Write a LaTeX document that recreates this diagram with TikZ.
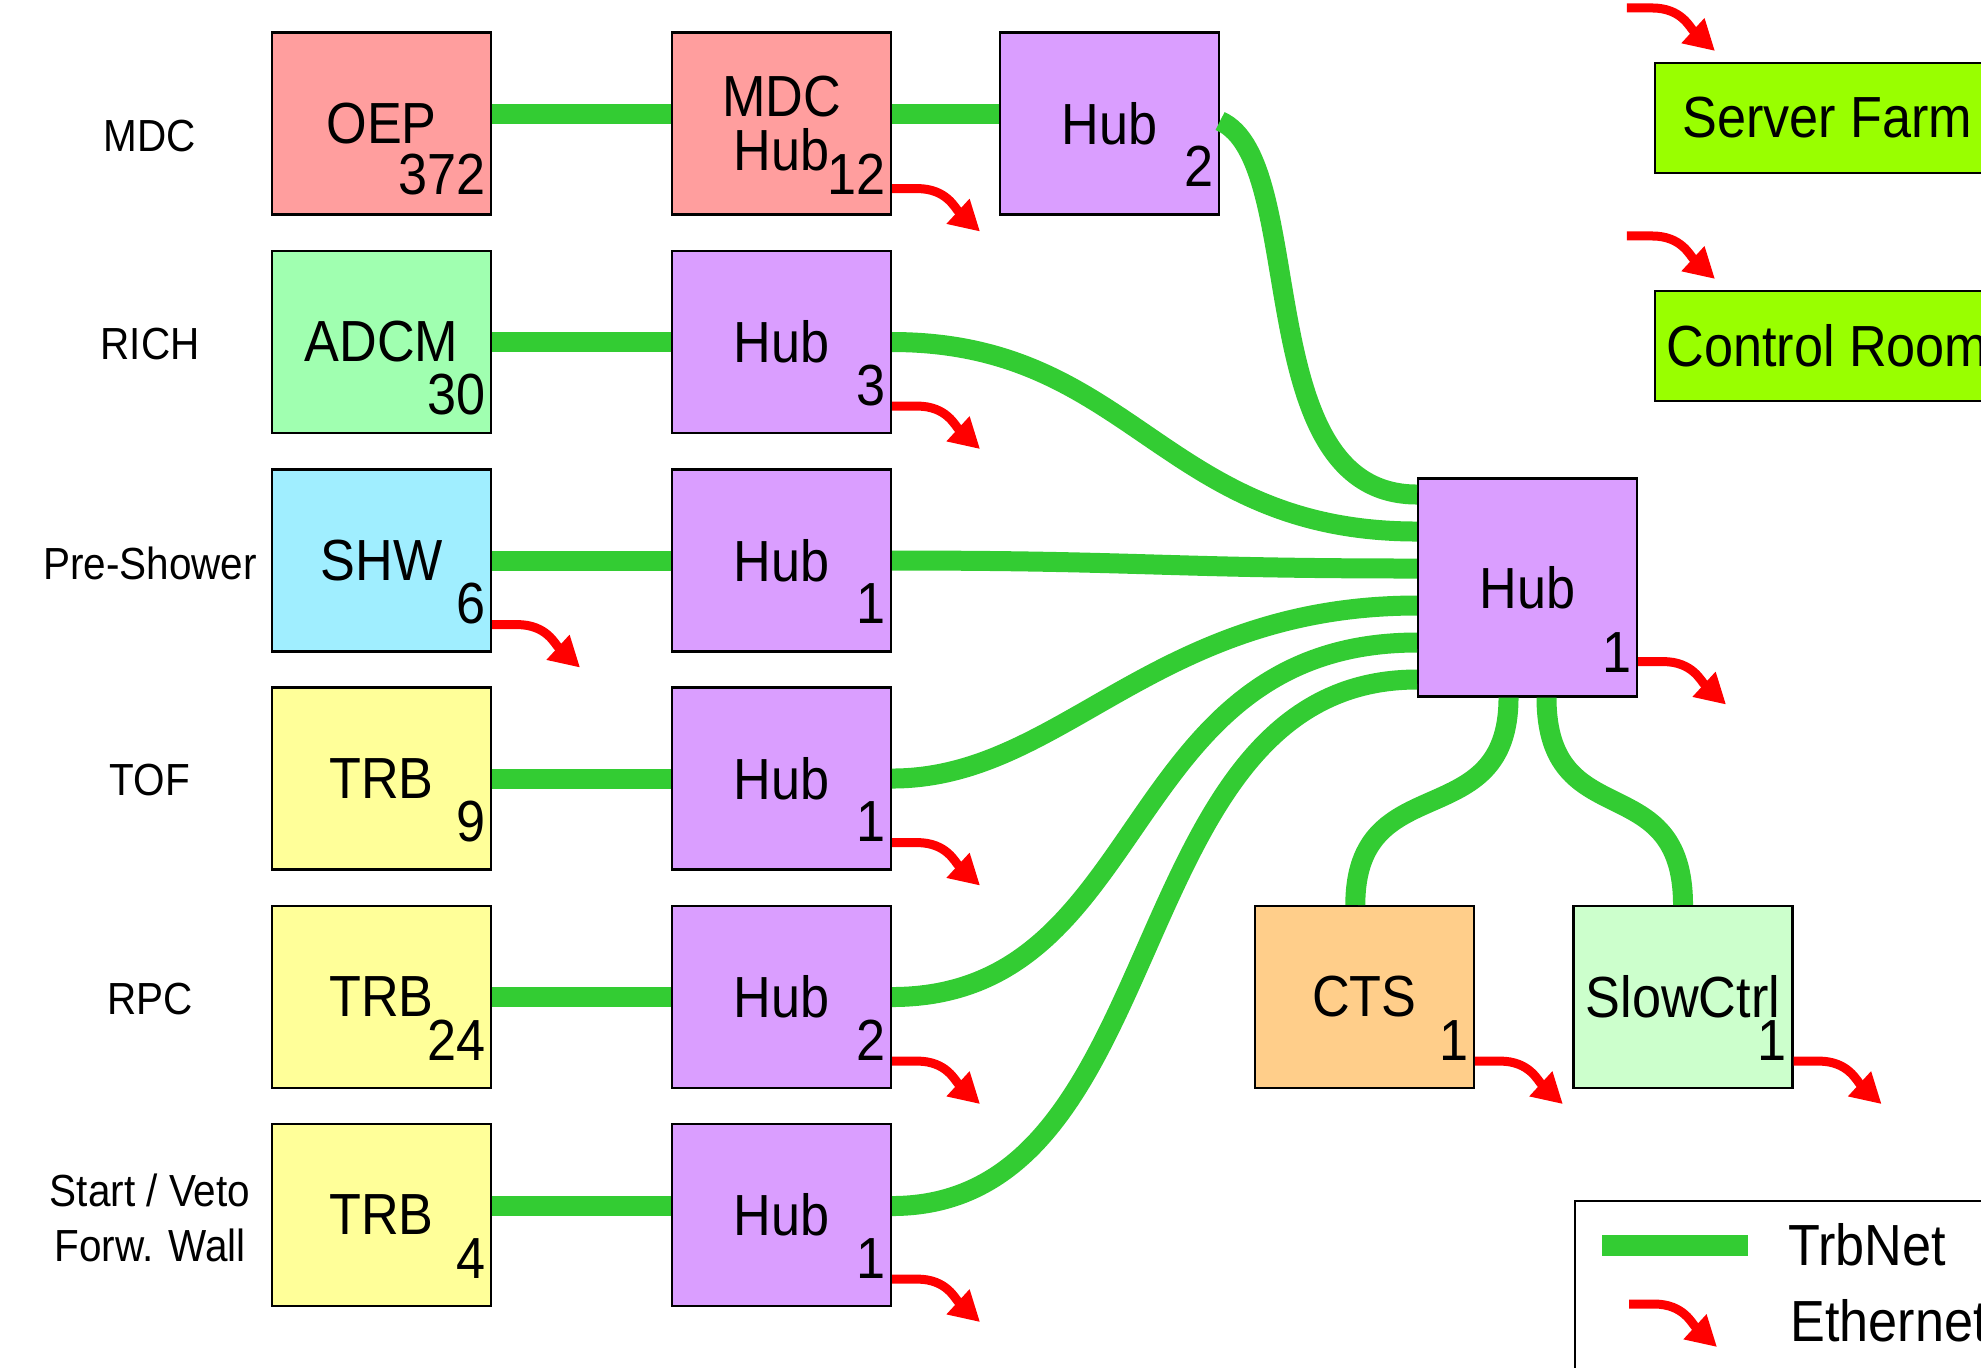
\documentclass[tikz,border=0pt]{standalone}
\usepackage{fontspec}
\setmainfont[FakeStretch=0.9]{Liberation Sans}
\usepackage{tikz}
\usetikzlibrary{arrows.meta,positioning,calc}

\definecolor{oeppink}{HTML}{FF9E9E}
\definecolor{adcmgreen}{HTML}{A0FFB0}
\definecolor{shwcyan}{HTML}{A0EEFF}
\definecolor{trbyellow}{HTML}{FFFF99}
\definecolor{hubviolet}{HTML}{DA9EFF}
\definecolor{ctsorange}{HTML}{FFCE8A}
\definecolor{slowgreen}{HTML}{CCFFCC}
\definecolor{farmlime}{HTML}{99FF00}
\definecolor{trbgreen}{HTML}{33CC33}

\begin{document}
\begin{tikzpicture}[
    x=1.0cm, y=1.0cm,
    font=\fontsize{16.5}{15.6}\selectfont,
    modbox/.style={rectangle, draw=black, line width=0.6pt, minimum width=2.19cm, minimum height=1.82cm, inner sep=0pt, align=center},
    hubblock/.style={modbox, fill=hubviolet},
    nlabel/.style={anchor=east, inner sep=0pt},
    detector/.style={font=\fontsize{12.8}{15.6}\selectfont, align=center},
    sink/.style={rectangle, draw=black, line width=0.6pt, fill=farmlime, minimum width=3.45cm, minimum height=1.10cm, inner sep=0pt},
    trbnet/.style={draw=trbgreen, line width=0.2cm},
    ethernet/.style={draw=red, line width=0.09cm, -{Triangle[length=0.3cm, width=0.32cm]}}
]
    \path[use as bounding box, clip] (0,0) rectangle (19.81,-13.67);

    % Detector names
    \node[detector] (lmdc) at (1.50,-1.355) {MDC};
    \node[detector] (lrich) at (1.50,-3.44) {RICH};
    \node[detector] (lshower) at (1.50,-5.63) {Pre-Shower};
    \node[detector] (ltof) at (1.50,-7.80) {TOF};
    \node[detector] (lrpc) at (1.50,-9.99) {RPC};
    \node[detector] (lstart) at (1.50,-12.175) {Start / Veto\\Forw. Wall};

    % Front-end boards and their hubs
    \node[modbox, fill=oeppink] (oep) at (3.815,-1.235) {OEP};
    \node[modbox, fill=oeppink] (mdchub) at (7.815,-1.235) {MDC\\Hub};
    \node[hubblock] (hubmdc) at (11.095,-1.235) {Hub};
    \node[modbox, fill=adcmgreen] (adcm) at (3.815,-3.42) {ADCM};
    \node[hubblock] (hubrich) at (7.815,-3.42) {Hub};
    \node[modbox, fill=shwcyan] (shw) at (3.815,-5.605) {SHW};
    \node[hubblock] (hubshower) at (7.815,-5.605) {Hub};
    \node[modbox, fill=trbyellow] (trbtof) at (3.815,-7.785) {TRB};
    \node[hubblock] (hubtof) at (7.815,-7.785) {Hub};
    \node[modbox, fill=trbyellow] (trbrpc) at (3.815,-9.97) {TRB};
    \node[hubblock] (hubrpc) at (7.815,-9.97) {Hub};
    \node[modbox, fill=trbyellow] (trbstart) at (3.815,-12.15) {TRB};
    \node[hubblock] (hubstart) at (7.815,-12.15) {Hub};

    % Central hub, CTS and slow control
    \node[hubblock, minimum height=2.18cm] (hubcentral) at (15.275,-5.875) {Hub};
    \node[modbox, fill=ctsorange] (cts) at (13.643,-9.97) {CTS};
    \node[modbox, fill=slowgreen] (slowctrl) at (16.83,-9.97) {SlowCtrl};

    % Ethernet destinations
    \node[sink] (farm) at (18.275,-1.18) {Server Farm};
    \node[sink] (ctrlroom) at (18.275,-3.46) {Control Room};

    % Board counts
    \node[nlabel] (oepn) at ($(oep.south east)+(-0.06,0.415)$) {372};
    \node[nlabel] (mdchubn) at ($(mdchub.south east)+(-0.06,0.415)$) {12};
    \node[nlabel] (hubmdcn) at ($(hubmdc.south east)+(-0.06,0.49)$) {2};
    \node[nlabel] (adcmn) at ($(adcm.south east)+(-0.06,0.40)$) {30};
    \node[nlabel] (hubrichn) at ($(hubrich.south east)+(-0.06,0.49)$) {3};
    \node[nlabel] (shwn) at ($(shw.south east)+(-0.06,0.49)$) {6};
    \node[nlabel] (hubshowern) at ($(hubshower.south east)+(-0.06,0.49)$) {1};
    \node[nlabel] (trbtofn) at ($(trbtof.south east)+(-0.06,0.49)$) {9};
    \node[nlabel] (hubtofn) at ($(hubtof.south east)+(-0.06,0.49)$) {1};
    \node[nlabel] (trbrpcn) at ($(trbrpc.south east)+(-0.06,0.49)$) {24};
    \node[nlabel] (hubrpcn) at ($(hubrpc.south east)+(-0.06,0.49)$) {2};
    \node[nlabel] (trbstartn) at ($(trbstart.south east)+(-0.06,0.49)$) {4};
    \node[nlabel] (hubstartn) at ($(hubstart.south east)+(-0.06,0.49)$) {1};
    \node[nlabel] (hubcentraln) at ($(hubcentral.south east)+(-0.06,0.45)$) {1};
    \node[nlabel] (ctsn) at ($(cts.south east)+(-0.06,0.49)$) {1};
    \node[nlabel] (slowctrln) at ($(slowctrl.south east)+(-0.06,0.49)$) {1};

    % 1. TrbNet: boards to hubs
    \draw[trbnet] ($(oep.east)+(0,0.095)$) -- ($(mdchub.west)+(0,0.095)$);
    \draw[trbnet] ($(mdchub.east)+(0,0.095)$) -- ($(hubmdc.west)+(0,0.095)$);
    \draw[trbnet] (adcm) -- (hubrich);
    \draw[trbnet] (shw) -- (hubshower);
    \draw[trbnet] (trbtof) -- (hubtof);
    \draw[trbnet] (trbrpc) -- (hubrpc);
    \draw[trbnet] ($(trbstart.east)+(0,0.09)$) -- ($(hubstart.west)+(0,0.09)$);

    % 2. TrbNet: hubs to central hub
    \draw[trbnet] ($(hubmdc.east)+(0,0.025)$) .. controls +(0.9,-0.4) and +(-1.7,0) .. ($(hubcentral.west)+(0,0.93)$);
    \draw[trbnet] (hubrich.east) .. controls +(2.4,0) and +(-2.55,0) .. ($(hubcentral.west)+(0,0.56)$);
    \draw[trbnet] (hubshower.east) .. controls +(2.5,0) and +(-2.5,0) .. ($(hubcentral.west)+(0,0.19)$);
    \draw[trbnet] (hubtof.east) .. controls +(1.7,0) and +(-2.65,0) .. ($(hubcentral.west)+(0,-0.18)$);
    \draw[trbnet] (hubrpc.east) .. controls +(2.6,0) and +(-3.0,0) .. ($(hubcentral.west)+(0,-0.55)$);
    \draw[trbnet] ($(hubstart.east)+(0,0.09)$) .. controls +(2.85,0) and +(-3.0,0) .. ($(hubcentral.west)+(0,-0.92)$);
    \draw[trbnet] ($(hubcentral.south)+(-0.19,0)$) .. controls +(0,-1.4) and +(0,1.4) .. ($(cts.north)+(-0.09,0)$);
    \draw[trbnet] ($(hubcentral.south)+(0.19,0)$) .. controls +(0,-1.4) and +(0,1.4) .. (slowctrl.north);

    % 3. Ethernet outputs
    \draw[ethernet] ($(mdchub.south east)+(0,0.27)$) -- ++(0.25,0) .. controls +(0.3,0) and +(-0.25,0.23) .. ++(0.63,-0.43);
    \draw[ethernet] ($(hubrich.south east)+(0,0.28)$) -- ++(0.25,0) .. controls +(0.3,0) and +(-0.25,0.23) .. ++(0.63,-0.43);
    \draw[ethernet] ($(shw.south east)+(0,0.28)$) -- ++(0.25,0) .. controls +(0.3,0) and +(-0.25,0.23) .. ++(0.63,-0.43);
    \draw[ethernet] ($(hubtof.south east)+(0,0.28)$) -- ++(0.25,0) .. controls +(0.3,0) and +(-0.25,0.23) .. ++(0.63,-0.43);
    \draw[ethernet] ($(hubrpc.south east)+(0,0.28)$) -- ++(0.25,0) .. controls +(0.3,0) and +(-0.25,0.23) .. ++(0.63,-0.43);
    \draw[ethernet] ($(hubstart.south east)+(0,0.28)$) -- ++(0.25,0) .. controls +(0.3,0) and +(-0.25,0.23) .. ++(0.63,-0.43);
    \draw[ethernet] ($(hubcentral.south east)+(0,0.36)$) -- ++(0.25,0) .. controls +(0.3,0) and +(-0.25,0.23) .. ++(0.63,-0.43);
    \draw[ethernet] ($(cts.south east)+(0,0.28)$) -- ++(0.25,0) .. controls +(0.3,0) and +(-0.25,0.23) .. ++(0.63,-0.43);
    \draw[ethernet] ($(slowctrl.south east)+(0,0.28)$) -- ++(0.25,0) .. controls +(0.3,0) and +(-0.25,0.23) .. ++(0.63,-0.43);

    % 4. Ethernet inputs
    \coordinate (farmfeed) at ($(farm.north west)+(-0.27,0.54)$);
    \coordinate (ctrlfeed) at ($(ctrlroom.north west)+(-0.27,0.54)$);
    \draw[ethernet] (farmfeed) -- ++(0.25,0) .. controls +(0.3,0) and +(-0.25,0.23) .. ++(0.63,-0.43);
    \draw[ethernet] (ctrlfeed) -- ++(0.25,0) .. controls +(0.3,0) and +(-0.25,0.23) .. ++(0.63,-0.43);

    % Legend
    \node[draw=black, line width=0.6pt, anchor=north west, minimum width=5cm, minimum height=2.5cm] (legend) at (15.74,-12.00) {};
    \coordinate (trbfrom) at ($(legend.north west)+(0.28,-0.45)$);
    \coordinate (trbto) at ($(trbfrom)+(1.46,0)$);
    \coordinate (ethfrom) at ($(legend.north west)+(0.55,-1.04)$);
    \draw[trbnet, line width=0.21cm] (trbfrom) -- (trbto);
    \draw[ethernet] (ethfrom) -- ++(0.25,0) .. controls +(0.3,0) and +(-0.25,0.23) .. ++(0.63,-0.43);
    \node[anchor=base west] (trblabel) at ($(legend.north west)+(2.02,-0.65)$) {TrbNet};
    \node[anchor=base west] (ethlabel) at ($(legend.north west)+(2.04,-1.41)$) {Ethernet};

\end{tikzpicture}
\end{document}
